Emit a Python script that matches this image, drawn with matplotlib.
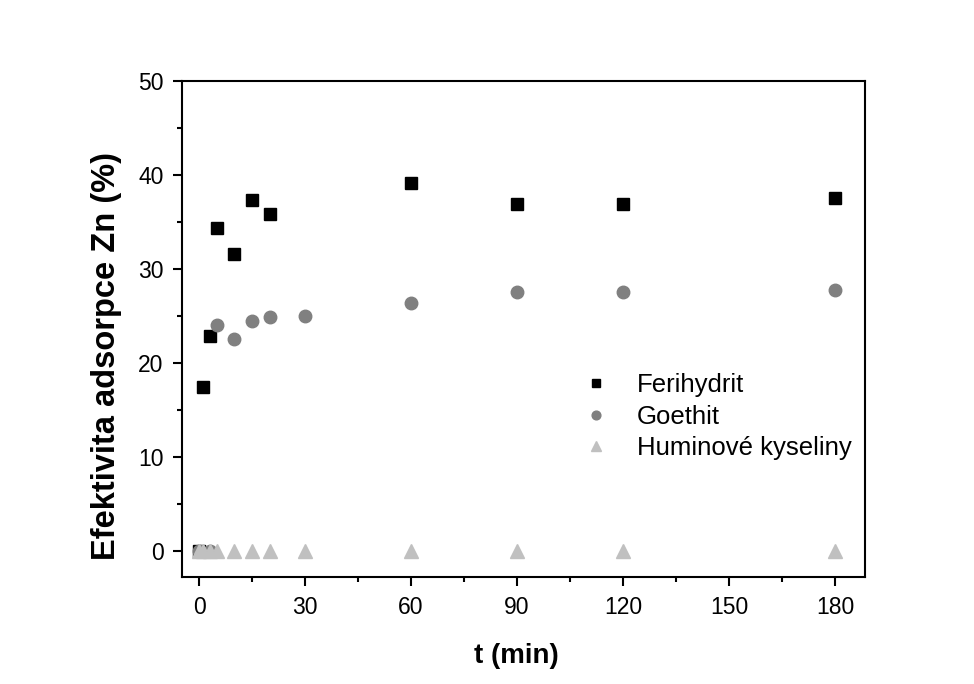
import numpy as np
import matplotlib.pyplot as plt
from matplotlib.ticker import MultipleLocator

plt.rcParams.update({"font.family": ["Liberation Sans", "DejaVu Sans"], "font.size": 12})

# times (min) and adsorption efficiency (%)
t_ferihydrit = [0, 1, 3, 5, 10, 15, 20, 60, 90, 120, 180]
ferihydrit = [0, 17.4, 22.9, 34.4, 31.6, 37.3, 35.8, 39.1, 36.9, 36.9, 37.5]

t_goethit = [0, 3, 5, 10, 15, 20, 30, 60, 90, 120, 180]
goethit = [0, 0, 24.0, 22.5, 24.5, 24.9, 25.0, 26.4, 27.5, 27.5, 27.7]

t_huminove = [0, 1, 3, 5, 10, 15, 20, 30, 60, 90, 120, 180]
huminove = [0, 0, 0, 0, 0, 0, 0, 0, 0, 0, 0, 0]

fig = plt.figure(figsize=(9.74, 6.84), dpi=100)
ax = fig.add_axes([0.187, 0.1564, 0.701, 0.7252])

ax.plot(t_ferihydrit, ferihydrit, "s", color="black", ms=8, label="Ferihydrit", zorder=3)
ax.plot(t_goethit, goethit, "o", color="#808080", ms=9, label="Goethit", zorder=3)
ax.plot(t_huminove, huminove, "^", color="#c0c0c0", ms=10, label="Huminové kyseliny", zorder=4)

ax.set_xlim(-4.8, 188.5)
ax.set_ylim(-2.8, 50)
ax.xaxis.set_major_locator(MultipleLocator(30))
ax.xaxis.set_minor_locator(MultipleLocator(15))
ax.yaxis.set_major_locator(MultipleLocator(10))
ax.yaxis.set_minor_locator(MultipleLocator(5))
ax.tick_params(which="major", direction="out", length=6.5, width=1.5, labelsize=16.5, pad=7)
ax.tick_params(which="minor", direction="out", length=3.6, width=1.5)
for s in ax.spines.values():
    s.set_linewidth(1.5)

ax.set_xlabel("t (min)", fontsize=20, fontweight="bold")
ax.set_ylabel("Efektivita adsorpce Zn (%)", fontsize=23.5, fontweight="bold")
ax.xaxis.set_label_coords(0.49, -0.133)
ax.yaxis.set_label_coords(-0.088, 0.446)

ax.legend(loc="upper left", bbox_to_anchor=(0.583, 0.473), bbox_transform=fig.transFigure,
          frameon=False, fontsize=18.5, borderpad=0, handlelength=1.2, handletextpad=1.0,
          labelspacing=0.28, markerscale=0.7)

fig.savefig("out.png", dpi=100)
